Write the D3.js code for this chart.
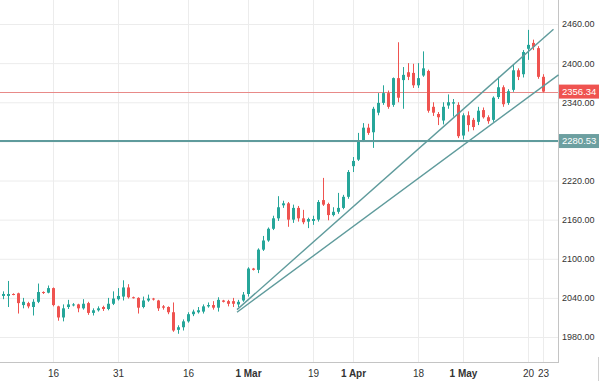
<!DOCTYPE html>
<html>
<head>
<meta charset="utf-8">
<script src="https://cdn.jsdelivr.net/npm/d3@7"></script>
<style>
  body { margin: 0; background: #fff; }
  text { font-family: "Liberation Sans", Arial, sans-serif; }
</style>
</head>
<body>
<div id="chart"></div>
<script>
// Daily candles, one per bar index (0 = first bar on the left)
const open = [2043,2043,2046,2047,2029,2032,2026,2034,2049,2048,
  2055,2027,2010,2026,2029,2030,2024,2032,2017,2021,
  2026,2023,2031,2038,2042,2056,2041,2040,2026,2036,
  2039,2036,2027,2026,2018,1991,1995,2004,2015,2018,
  2019,2027,2029,2025,2036,2035,2035,2030,2036,2046,
  2085,2083,2114,2128,2146,2162,2182,2185,2160,2178,
  2162,2157,2158,2160,2190,2184,2167,2172,2178,2195,
  2242,2252,2281,2301,2294,2324,2339,2354,2336,2377,
  2374,2386,2385,2366,2381,2388,2333,2322,2312,2335,
  2338,2336,2289,2320,2313,2310,2328,2317,2313,2348,
  2363,2339,2359,2389,2383,2422,2431,2423,2379];
const high = [2050,2066,2047,2048,2040,2034,2038,2062,2050,2059,
  2056,2028,2030,2037,2032,2031,2038,2034,2024,2027,
  2028,2040,2050,2055,2067,2061,2042,2041,2042,2045,
  2040,2037,2029,2027,2033,1998,2007,2018,2022,2026,
  2030,2033,2035,2041,2037,2037,2040,2037,2049,2087,
  2086,2116,2135,2148,2166,2196,2189,2187,2183,2181,
  2175,2163,2166,2190,2224,2186,2179,2201,2198,2236,
  2256,2293,2308,2307,2333,2354,2366,2358,2378,2432,
  2394,2400,2399,2400,2418,2390,2340,2325,2340,2352,
  2345,2340,2323,2326,2316,2333,2332,2320,2349,2379,
  2366,2360,2398,2392,2420,2451,2436,2426,2383];
const low = [2038,2026,2044,2016,2024,2024,2013,2032,2046,2047,
  2027,2005,2004,2023,2027,2018,2022,2014,2013,2019,
  2020,2021,2029,2036,2036,2039,2039,2016,2024,2034,
  2036,2020,2022,2015,1988,1985,1990,2002,2012,2016,
  2016,2025,2022,2019,2033,2027,2026,2026,2034,2042,
  2082,2078,2112,2126,2144,2158,2178,2149,2155,2157,
  2153,2147,2152,2157,2181,2159,2165,2169,2176,2192,
  2233,2250,2279,2290,2270,2320,2336,2330,2333,2340,
  2330,2374,2362,2362,2379,2324,2319,2305,2306,2330,
  2318,2285,2283,2295,2297,2305,2315,2307,2310,2345,
  2333,2336,2356,2374,2378,2405,2420,2376,2355];
const close = [2046,2046,2045,2032,2034,2027,2034,2049,2048,2055,
  2029,2010,2024,2030,2030,2024,2031,2017,2021,2024,
  2023,2031,2039,2043,2056,2041,2040,2025,2036,2039,
  2038,2024,2025,2018,1990,1995,2004,2015,2019,2021,
  2027,2029,2025,2037,2034,2031,2031,2034,2045,2085,
  2083,2114,2128,2146,2162,2179,2185,2160,2178,2162,
  2156,2161,2161,2187,2183,2167,2172,2178,2195,2233,
  2250,2281,2301,2293,2330,2339,2354,2333,2377,2347,
  2382,2379,2366,2377,2392,2327,2324,2317,2333,2340,
  2340,2288,2320,2305,2302,2327,2317,2311,2347,2363,
  2337,2357,2389,2379,2417,2428,2425,2379,2356.34];

// Time axis ticks: bar index and label
const dateTickIdx = [10, 23, 37, 49, 62, 70, 83, 92, 105, 108];
const dateTickLabels = ["16", "31", "16", "1 Mar", "19", "1 Apr", "18", "1 May", "20", "23"];

// Price axis ticks
const priceTicks = [1980, 2040, 2100, 2160, 2220, 2280, 2340, 2400, 2460];

// Horizontal levels
const lastPrice = 2356.34;
const supportLevel = 2280.53;

// Trend lines: [bar index, price] start and end
const trendUpper = [[46.8, 2022], [110.1, 2452]];
const trendLower = [[46.8, 2018], [111.1, 2382]];

const width = 600, height = 381,
    plotW = 558, plotH = 362;

const upColor = "#26a69a", downColor = "#ef5350",
    lineColor = "#5f9b9c", gridColor = "#ececec";

const candles = open.map((o, i) => ({i: i, o: o, h: high[i], l: low[i], c: close[i]}));

const svg = d3.select("#chart")
    .append("svg")
    .attr("width", width)
    .attr("height", height);

const x = d3.scaleLinear()
    .domain([-0.6, 111])
    .range([0, plotW]);

const y = d3.scaleLinear()
    .domain([1941.7, 2496.8])
    .range([plotH, 0]);

// Vertical grid + date labels
const xAxis = svg.append("g")
    .attr("transform", `translate(0, ${plotH})`)
    .call(d3.axisBottom(x)
        .tickValues(dateTickIdx)
        .tickSize(-plotH)
        .tickPadding(8)
        .tickFormat((d, i) => dateTickLabels[i]));
xAxis.select(".domain").remove();
xAxis.selectAll("line").attr("stroke", gridColor);
xAxis.selectAll("text")
    .attr("fill", "#333")
    .style("font-size", "10px")
    .style("font-weight", (d, i) => /[A-Za-z]/.test(dateTickLabels[i]) ? "bold" : "normal");

// Horizontal grid + price labels
const yAxis = svg.append("g")
    .attr("transform", `translate(${plotW}, 0)`)
    .call(d3.axisRight(y)
        .tickValues(priceTicks)
        .tickSize(-plotW)
        .tickPadding(4)
        .tickFormat(d3.format(".2f")));
yAxis.select(".domain").remove();
yAxis.selectAll("line").attr("stroke", gridColor);
yAxis.selectAll("text")
    .attr("fill", "#333")
    .style("font-size", "9px");
// label hidden under the support price tag
yAxis.selectAll(".tick")
    .filter(d => [lastPrice, supportLevel].some(p => Math.abs(y(d) - y(p)) < 6))
    .select("text").remove();

// Plot borders
svg.append("line")
    .attr("x1", plotW + 0.5).attr("x2", plotW + 0.5)
    .attr("y1", 0).attr("y2", plotH + 1)
    .attr("stroke", "#c4c4c4");
svg.append("line")
    .attr("x1", 0).attr("x2", plotW)
    .attr("y1", plotH + 0.5).attr("y2", plotH + 0.5)
    .attr("stroke", "#c4c4c4");
svg.append("line")
    .attr("x1", 598.5).attr("x2", 598.5)
    .attr("y1", 357).attr("y2", height)
    .attr("stroke", "#d0d0d0");

// Last price line
svg.append("line")
    .attr("x1", 0).attr("x2", plotW)
    .attr("y1", Math.round(y(lastPrice)) + 0.5).attr("y2", Math.round(y(lastPrice)) + 0.5)
    .attr("stroke", "#e88a88");

// Candles
const cx = d => Math.round(x(d.i));
const g = svg.append("g");
g.selectAll("line.wick")
    .data(candles)
    .join("line")
    .attr("class", "wick")
    .attr("x1", d => cx(d) + 0.5)
    .attr("x2", d => cx(d) + 0.5)
    .attr("y1", d => y(d.h))
    .attr("y2", d => y(d.l))
    .attr("stroke", d => d.c >= d.o ? upColor : downColor);
g.selectAll("rect.body")
    .data(candles)
    .join("rect")
    .attr("class", "body")
    .attr("x", d => cx(d) - 1)
    .attr("width", 3)
    .attr("y", d => y(Math.max(d.o, d.c)))
    .attr("height", d => Math.max(1, Math.abs(y(d.o) - y(d.c))))
    .attr("fill", d => d.c >= d.o ? upColor : downColor);

// Support level line
svg.append("line")
    .attr("x1", 0).attr("x2", plotW)
    .attr("y1", y(supportLevel)).attr("y2", y(supportLevel))
    .attr("stroke", lineColor)
    .attr("stroke-width", 2);

// Trend lines
[trendUpper, trendLower].forEach(t => {
  svg.append("line")
      .attr("x1", x(t[0][0])).attr("y1", y(t[0][1]))
      .attr("x2", x(t[1][0])).attr("y2", y(t[1][1]))
      .attr("stroke", lineColor)
      .attr("stroke-width", 1.4);
});

// Price tags on the axis
[[lastPrice, downColor], [supportLevel, "#6c9fa0"]].forEach(p => {
  const yy = y(p[0]);
  svg.append("rect")
      .attr("x", plotW + 1).attr("y", yy - 7)
      .attr("width", 40).attr("height", 14)
      .attr("fill", p[1]);
  svg.append("text")
      .attr("x", plotW + 4).attr("y", yy)
      .attr("dy", "0.35em")
      .attr("fill", "#fff")
      .style("font-size", "9.5px")
      .text(d3.format(".2f")(p[0]));
});
</script>
</body>
</html>
